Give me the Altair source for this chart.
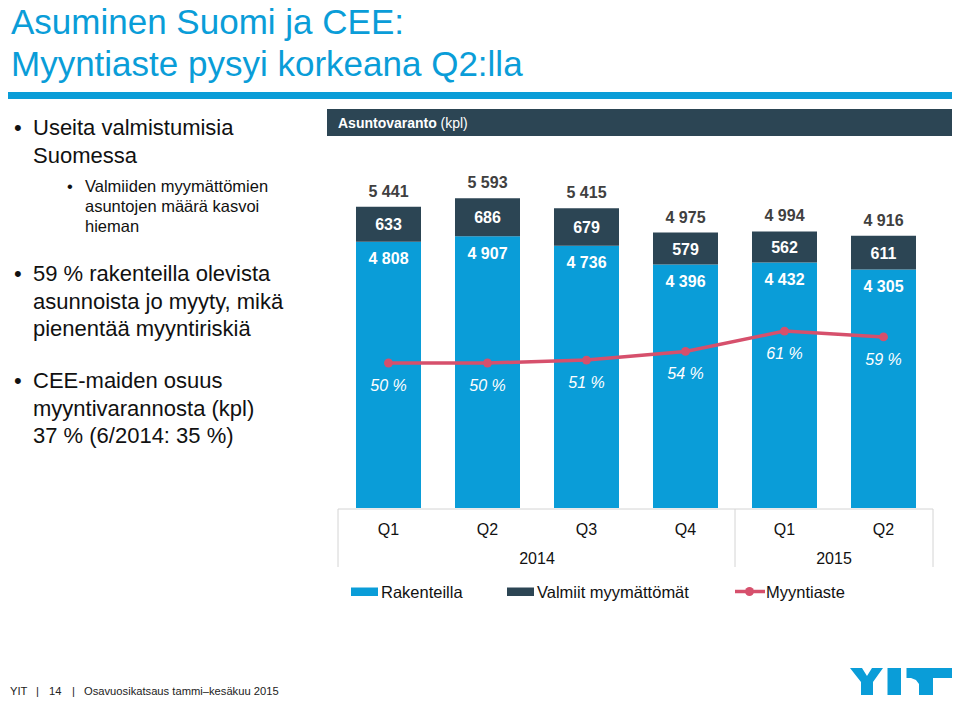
import altair as alt
import pandas as pd

# ---------------- data ----------------
quarters = ["Q1", "Q2", "Q3", "Q4", "Q1", "Q2"]
years = ["2014", "2014", "2014", "2014", "2015", "2015"]
rakenteilla = [4808, 4907, 4736, 4396, 4432, 4305]
valmiit_myymattomat = [633, 686, 679, 579, 562, 611]
myyntiaste = [50, 50, 51, 54, 61, 59]
series = ["Rakenteilla", "Valmiit myymättömät", "Myyntiaste"]

title_lines = ["Asuminen Suomi ja CEE:", "Myyntiaste pysyi korkeana Q2:lla"]
bullet1 = ["Useita valmistumisia", "Suomessa"]
sub_bullet = ["Valmiiden myymättömien", "asuntojen määrä kasvoi", "hieman"]
bullet2 = ["59 % rakenteilla olevista", "asunnoista jo myyty, mikä", "pienentää myyntiriskiä"]
bullet3 = ["CEE-maiden osuus", "myyntivarannosta (kpl)", "37 % (6/2014: 35 %)"]
panel_title = "Asuntovaranto"
panel_unit = "(kpl)"
footer_parts = ["YIT", "|", "14", "|", "Osavuosikatsaus tammi\u2013kesäkuu 2015"]

# ---------------- style / layout ----------------
BLUE = "#0A9DD8"
DARK = "#2C4554"
PINK = "#D6506C"
TXT = "#111111"
GREY_T = "#404040"
RULE_GREY = "#D4D4D4"
FONT = "Liberation Sans"

W, H = 594, 358
PAD_L, PAD_T = 331, 142
PAD_R = 944 - PAD_L - W
PAD_B = 693 - PAD_T - H
OX, OY = 8 + PAD_L, 8 + PAD_T      # page position of the plot origin
STEP = W / len(quarters)


def px(x):
    return x - OX


def py(y):
    return y - OY


def fmt(n):
    return f"{n:,}".replace(",", " ")


keys = [f"{q} {y}" for q, y in zip(quarters, years)]

rows = []
for k, r, v in zip(keys, rakenteilla, valmiit_myymattomat):
    rows.append({"key": k, "series": series[0], "start": 0, "end": r})
    rows.append({"key": k, "series": series[1], "start": r, "end": r + v})
bars_df = pd.DataFrame(rows)

lab_df = pd.DataFrame({
    "key": keys,
    "r": rakenteilla,
    "mid": [r + v / 2 for r, v in zip(rakenteilla, valmiit_myymattomat)],
    "top": [r + v for r, v in zip(rakenteilla, valmiit_myymattomat)],
    "r_txt": [fmt(r) for r in rakenteilla],
    "v_txt": [fmt(v) for v in valmiit_myymattomat],
    "t_txt": [fmt(r + v) for r, v in zip(rakenteilla, valmiit_myymattomat)],
})

line_df = pd.DataFrame({"key": keys, "pct": myyntiaste,
                        "txt": [f"{p} %" for p in myyntiaste]})

q_df = pd.DataFrame({"key": keys, "q": quarters})

year_rows = []
for yr in dict.fromkeys(years):
    idx = [i for i, y in enumerate(years) if y == yr]
    year_rows.append({"key": keys[idx[len(idx) // 2 - 1]], "year": yr})
year_df = pd.DataFrame(year_rows)

end_df = pd.DataFrame({"key": [keys[i] for i in range(len(keys))
                               if i == len(keys) - 1 or years[i] != years[i + 1]]})
start_df = pd.DataFrame({"key": [keys[0]]})

x_scale = alt.Scale(domain=keys, paddingInner=0.3434, paddingOuter=0.1717)
ybar = alt.Scale(domain=[0, 6465], nice=False, zero=True)
yline = alt.Scale(domain=[0, 123.45], nice=False, zero=True)


def X():
    return alt.X("key:N", scale=x_scale, axis=None)


ONE = pd.DataFrame({"d": [0]})


def txt(s, x, y, size, color=TXT, weight="normal", style="normal",
        align="left", baseline="alphabetic", line_height=None):
    kw = dict(text=s, font=FONT, fontSize=size, fontWeight=weight,
              fontStyle=style, color=color, align=align, baseline=baseline)
    if line_height is not None:
        kw["lineHeight"] = line_height
    return alt.Chart(ONE).mark_text(**kw).encode(
        x=alt.value(px(x)), y=alt.value(py(y)))


def rect(x1, y1, x2, y2, color):
    return alt.Chart(ONE).mark_rect(color=color).encode(
        x=alt.value(px(x1)), x2=alt.value(px(x2)),
        y=alt.value(py(y1)), y2=alt.value(py(y2)))


# ---------------- chart layers ----------------
bars = alt.Chart(bars_df).mark_bar().encode(
    x=X(),
    y=alt.Y("start:Q", scale=ybar, axis=None),
    y2="end:Q",
    color=alt.Color("series:N", scale=alt.Scale(domain=series[:2], range=[BLUE, DARK]),
                    legend=None),
)

r_lab = alt.Chart(lab_df).mark_text(font=FONT, fontSize=16, fontWeight="bold",
                                    color="white", baseline="middle", dy=17.5).encode(
    x=X(), y=alt.Y("r:Q", scale=ybar, axis=None), text="r_txt:N")
v_lab = alt.Chart(lab_df).mark_text(font=FONT, fontSize=16, fontWeight="bold",
                                    color="white", baseline="middle", dy=1).encode(
    x=X(), y=alt.Y("mid:Q", scale=ybar, axis=None), text="v_txt:N")
t_lab = alt.Chart(lab_df).mark_text(font=FONT, fontSize=16, fontWeight="bold",
                                    color=GREY_T, baseline="middle", dy=-15).encode(
    x=X(), y=alt.Y("top:Q", scale=ybar, axis=None), text="t_txt:N")

line = alt.Chart(line_df).mark_line(
    color=PINK, strokeWidth=3.5,
    point=alt.OverlayMarkDef(filled=True, size=80, color=PINK, opacity=1)).encode(
    x=X(), y=alt.Y("pct:Q", scale=yline, axis=None))
line_lab = alt.Chart(line_df).mark_text(font=FONT, fontSize=16, fontStyle="italic",
                                        color="white", baseline="middle", dy=23).encode(
    x=X(), y=alt.Y("pct:Q", scale=yline, axis=None), text="txt:N")

# category axis drawn as a box
axis_h = alt.Chart(ONE).mark_rule(color=RULE_GREY, strokeWidth=1).encode(
    x=alt.value(-1), x2=alt.value(W), y=alt.value(H + 1))
sep_start = alt.Chart(start_df).mark_rule(color=RULE_GREY, strokeWidth=1,
                                          xOffset=-STEP / 2 - 1).encode(
    x=X(), y=alt.value(H + 1), y2=alt.value(H + 59))
sep_end = alt.Chart(end_df).mark_rule(color=RULE_GREY, strokeWidth=1,
                                      xOffset=STEP / 2).encode(
    x=X(), y=alt.value(H + 1), y2=alt.value(H + 59))
q_lab = alt.Chart(q_df).mark_text(font=FONT, fontSize=16, color=TXT,
                                  baseline="middle").encode(
    x=X(), y=alt.value(H + 22), text="q:N")
y_lab = alt.Chart(year_df).mark_text(font=FONT, fontSize=16, color=TXT,
                                     baseline="middle", dx=STEP / 2).encode(
    x=X(), y=alt.value(H + 51), text="year:N")

# legend
legend = [
    rect(351, 587.5, 378, 596, BLUE),
    txt(series[0], 381, 592.5, 16.5, baseline="middle"),
    rect(507, 587.5, 534, 596, DARK),
    txt(series[1], 537, 592.5, 16.5, baseline="middle"),
    alt.Chart(ONE).mark_rule(color=PINK, strokeWidth=3.5).encode(
        x=alt.value(px(735)), x2=alt.value(px(765)), y=alt.value(py(591.5))),
    alt.Chart(ONE).mark_point(shape="circle", filled=True, size=80, color=PINK,
                              opacity=1).encode(
        x=alt.value(px(749.5)), y=alt.value(py(591.5))),
    txt(series[2], 766, 592.5, 16.5, baseline="middle"),
]

# slide decorations
title = txt(title_lines, 11, 34, 35, color=BLUE, line_height=42)
title_rule = rect(8, 92, 952, 99, BLUE)
header = rect(327, 109, 952, 136, DARK)
header_t1 = txt(panel_title, 338, 123.5, 14, color="white", weight="bold", baseline="middle")
header_t2 = txt(panel_unit, 440.5, 123.5, 14, color="white", baseline="middle")

left = [
    txt("\u2022", 14, 135, 22),
    txt(bullet1, 33, 135, 22, line_height=28),
    txt("\u2022", 67, 192, 16.5),
    txt(sub_bullet, 85, 192, 16.5, line_height=20),
    txt("\u2022", 14, 281, 22),
    txt(bullet2, 33, 281, 22, line_height=27.5),
    txt("\u2022", 14, 388, 22),
    txt(bullet3, 33, 388, 22, line_height=27.5),
]

footer_x = [10, 36, 49, 72, 84]
footer = [txt(s, x, 695, 11.2, color="#222222") for s, x in zip(footer_parts, footer_x)]


def logo_path():
    lw, lh = 104.0, 27.0
    r = lw / 2
    polys = [
        [(0, 0), (12, 0), (17, 8), (22, 0), (33, 0), (23, 14), (23, 27), (11, 27), (11, 14)],
        [(37.5, 0), (51, 0), (51, 27), (37.5, 27)],
        [(56.5, 0), (103, 0), (103, 10), (83, 10), (83, 27), (69, 27), (69, 16),
         (66, 12), (61, 10), (56.5, 10)],
    ]
    parts = []
    for poly in polys:
        pts = [f"{(x - r) / r:.4f},{(y - lh / 2) / r:.4f}" for x, y in poly]
        parts.append("M" + " L".join(pts) + " Z")
    return " ".join(parts)


logo = alt.Chart(ONE).mark_point(shape=logo_path(), size=104 ** 2, filled=True,
                                 color=BLUE, opacity=1, strokeWidth=0).encode(
    x=alt.value(px(902)), y=alt.value(py(681.5)))

chart = alt.layer(
    title_rule, title, header, header_t1, header_t2, *left,
    bars, r_lab, v_lab, t_lab, line, line_lab,
    axis_h, sep_start, sep_end, q_lab, y_lab,
    *legend, *footer, logo,
).resolve_scale(y="independent").properties(
    width=W, height=H,
    padding={"left": PAD_L, "top": PAD_T, "right": PAD_R, "bottom": PAD_B},
    autosize=alt.AutoSizeParams(type="none"),
    background="white",
).configure_view(stroke=None)

chart.save("out.html", embed_options={"renderer": "svg", "actions": False})
